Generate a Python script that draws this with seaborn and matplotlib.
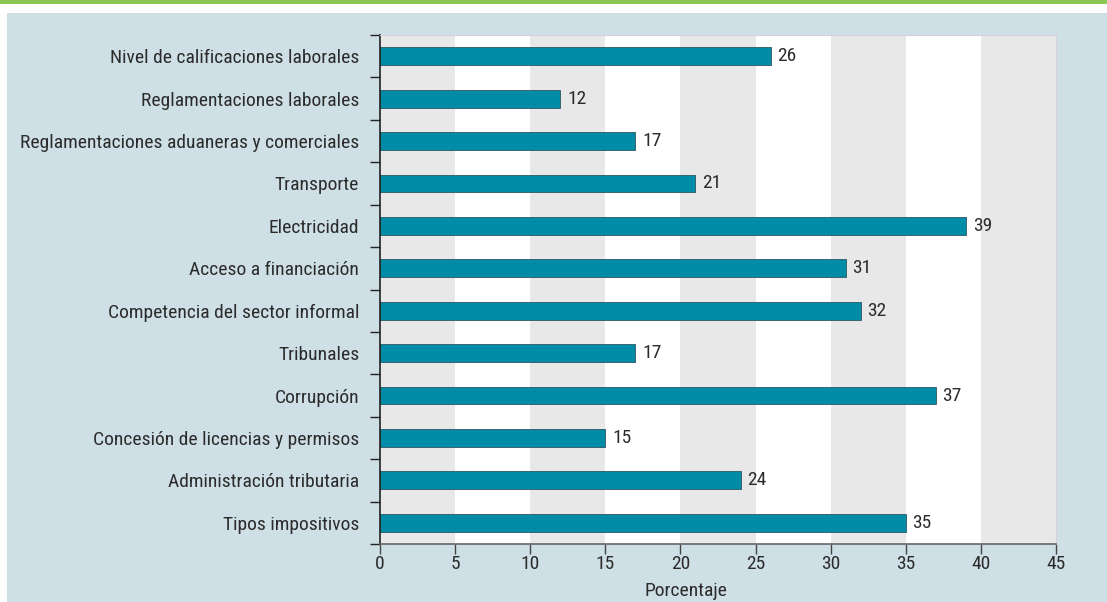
import matplotlib
matplotlib.use("Agg")
import matplotlib.pyplot as plt
from matplotlib.patches import Rectangle
import seaborn as sns
import pandas as pd

categories = [
    "Nivel de calificaciones laborales",
    "Reglamentaciones laborales",
    "Reglamentaciones aduaneras y comerciales",
    "Transporte",
    "Electricidad",
    "Acceso a financiación",
    "Competencia del sector informal",
    "Tribunales",
    "Corrupción",
    "Concesión de licencias y permisos",
    "Administración tributaria",
    "Tipos impositivos",
]
values = [26, 12, 17, 21, 39, 31, 32, 17, 37, 15, 24, 35]
x_ticks = [0, 5, 10, 15, 20, 25, 30, 35, 40, 45]
x_label = "Porcentaje"

df = pd.DataFrame({"categoria": categories, "porcentaje": values})

sns.set_theme(style="white")
plt.rcParams["font.family"] = ["Roboto Condensed", "Archivo Narrow", "Liberation Sans", "DejaVu Sans"]

TEXT = "#2b2b2b"
BAR = "#008ba6"
PANEL = "#cfdfe6"
GREEN = "#8cc653"
STRIPE = "#e8e8e8"
FS = 14

W, H = 1107, 602
fig = plt.figure(figsize=(W / 100, H / 100), dpi=100, facecolor="white")

# page decoration: green rule on top, blue panel behind the chart
fig.patches.append(Rectangle((0, 1 - 4 / H), 1, 4 / H, transform=fig.transFigure,
                             facecolor=GREEN, edgecolor="none", zorder=-2))
fig.patches.append(Rectangle((7 / W, 0), 1, 1 - 13 / H, transform=fig.transFigure,
                             facecolor=PANEL, edgecolor="none", zorder=-2))

ax = fig.add_axes([380 / W, 1 - 544 / H, (1056 - 380) / W, (544 - 35) / H])
ax.set_facecolor("white")

# alternating vertical bands
for i in range(0, 45, 10):
    ax.axvspan(i, i + 5, color=STRIPE, zorder=0, lw=0)

sns.barplot(data=df, y="categoria", x="porcentaje", orient="h", color=BAR,
            saturation=1, width=0.42, edgecolor="#2f5664", linewidth=0.6,
            ax=ax, zorder=2)

for i, v in enumerate(values):
    ax.text(v + 0.45, i, f"{v}", va="center", ha="left", fontsize=FS, color=TEXT)

ax.set_xlim(0, 45)
ax.set_ylim(len(categories) - 0.5, -0.5)
ax.set_xticks(x_ticks)
ax.set_xticklabels([str(t) for t in x_ticks])
ax.set_ylabel("")
ax.set_xlabel(x_label, fontsize=FS, color=TEXT)
ax.xaxis.set_label_coords((686 - 380) / 676, -0.075)

ax.set_yticks(range(len(categories)))
ax.set_yticklabels(categories)
ax.set_yticks([i - 0.5 for i in range(len(categories) + 1)], minor=True)
ax.tick_params(axis="y", which="major", length=0, pad=15, labelsize=FS, labelcolor=TEXT)
ax.tick_params(axis="y", which="minor", length=7, width=1, color="#222222", left=True)
ax.tick_params(axis="x", which="major", length=7, width=1, color="#444444",
               labelsize=FS, labelcolor=TEXT, pad=1, bottom=True)

for side in ["top", "right"]:
    ax.spines[side].set_color("#d9cfdc")
    ax.spines[side].set_linewidth(0.8)
ax.spines["left"].set_color("#222222")
ax.spines["left"].set_linewidth(1.2)
ax.spines["bottom"].set_color("#666666")
ax.spines["bottom"].set_linewidth(1.2)

fig.savefig("out.png", dpi=100, facecolor=fig.get_facecolor())
